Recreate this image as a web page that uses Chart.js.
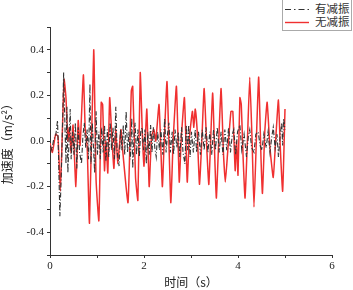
<!DOCTYPE html>
<html>
<head>
<meta charset="utf-8">
<script src="https://cdn.jsdelivr.net/npm/chart.js@4"></script>
<style>
  body { margin: 0; background: #fff; }
  #wrap { position: relative; width: 353px; height: 290px; }
  #legend {
    position: absolute; left: 282px; top: -1px; width: 68px; height: 30px;
    border: 1px solid #aaa; background: #fff;
    font-family: "Noto Sans CJK SC", sans-serif; font-size: 11.5px; color: #333;
  }
  #legend .row { position: absolute; left: 2px; height: 13px; line-height: 13px; }
  #legend svg { position: absolute; left: 0; top: 0; }
  #legend span { position: absolute; left: 30px; top: -1px; white-space: nowrap; }
</style>
</head>
<body>
<div id="wrap">
  <canvas id="chart" width="353" height="290"></canvas>
  <div id="legend">
    <div class="row" style="top:3px">
      <svg width="26" height="13"><line x1="0" y1="6.5" x2="24" y2="6.5" stroke="#333" stroke-width="1.2" stroke-dasharray="6,3,1.5,3"/></svg>
      <span>有减振</span>
    </div>
    <div class="row" style="top:16px">
      <svg width="26" height="13"><line x1="0" y1="6.5" x2="24" y2="6.5" stroke="#f03030" stroke-width="1.4"/></svg>
      <span>无减振</span>
    </div>
  </div>
</div>
<script>
// 无减振 (red) — time (s) and acceleration (m/s^2)
const redT = [0.00,0.05,0.12,0.17,0.22,0.26,0.30,0.34,0.38,0.41,0.45,0.49,0.55,0.60,0.64,0.71,0.75,0.79,0.84,0.93,
  0.98,1.04,1.09,1.12,1.16,1.19,1.23,1.27,1.32,1.36,1.40,1.44,1.51,1.55,1.66,1.73,1.76,1.82,1.87,1.92,
  1.97,2.00,2.06,2.11,2.16,2.21,2.25,2.32,2.39,2.43,2.49,2.57,2.62,2.69,2.75,2.79,2.86,2.92,2.96,3.03,
  3.06,3.09,3.13,3.18,3.23,3.28,3.34,3.38,3.46,3.51,3.54,3.59,3.64,3.69,3.73,3.78,3.85,3.89,3.94,3.97,
  4.00,4.04,4.07,4.11,4.15,4.20,4.25,4.30,4.34,4.39,4.44,4.49,4.52,4.57,4.62,4.68,4.75,4.80,4.86,4.90,
  4.95,5.00];
const redV = [-0.01,-0.05,0.03,0.02,-0.22,0.02,0.27,0.19,0.00,0.06,-0.05,0.07,-0.20,0.09,-0.02,0.29,0.05,-0.02,-0.36,0.40,
  -0.17,-0.35,0.17,0.16,-0.13,0.00,-0.14,0.19,0.00,-0.12,0.05,-0.10,0.05,-0.05,-0.27,0.22,0.24,-0.16,-0.26,0.30,
  0.00,-0.11,0.14,-0.20,0.02,0.05,0.00,0.16,-0.20,0.00,0.26,-0.27,0.00,0.24,-0.18,0.00,0.19,-0.18,0.00,0.13,
  0.06,0.14,0.05,-0.19,0.00,0.23,-0.05,-0.19,0.21,-0.10,-0.25,0.00,0.23,-0.05,-0.18,-0.05,0.13,0.13,-0.13,0.00,
  -0.15,0.19,0.16,-0.08,-0.25,0.00,0.28,0.00,-0.29,0.00,0.28,-0.08,-0.23,0.04,0.17,-0.03,-0.16,0.00,0.18,-0.03,
  -0.22,0.14];

// 有减振 (black dash-dot)
const blackT = [0.00,0.04,0.08,0.12,0.16,0.18,0.21,0.24,0.27,0.29,0.32,0.34,0.36,0.38,0.41,0.43,0.45,0.48,0.51,0.54,
  0.57,0.60,0.63,0.67,0.70,0.73,0.76,0.79,0.82,0.85,0.87,0.90,0.93,0.95,0.98,1.01,1.04,1.07,1.10,1.13,
  1.16,1.19,1.22,1.25,1.28,1.31,1.34,1.37,1.40,1.43,1.47,1.50,1.53,1.56,1.59,1.62,1.65,1.68,1.71,1.74,
  1.76,1.79,1.81,1.84,1.87,1.90,1.93,1.96,1.99,2.02,2.05,2.08,2.11,2.14,2.17,2.20,2.23,2.26,2.29,2.33,
  2.36,2.40,2.44,2.47,2.50,2.53,2.56,2.60,2.63,2.66,2.70,2.73,2.76,2.80,2.83,2.87,2.90,2.93,2.95,2.98,
  3.01,3.05,3.09,3.12,3.16,3.20,3.24,3.28,3.32,3.36,3.40,3.44,3.48,3.52,3.56,3.60,3.64,3.68,3.72,3.76,
  3.80,3.84,3.88,3.91,3.95,3.99,4.04,4.08,4.13,4.18,4.22,4.25,4.29,4.34,4.38,4.43,4.47,4.51,4.55,4.60,
  4.64,4.68,4.72,4.75,4.79,4.83,4.86,4.90,4.93,4.95,4.97,5.00];
const blackV = [-0.02,-0.04,0.01,0.02,0.09,-0.05,-0.33,-0.15,0.10,0.30,0.05,-0.10,0.15,-0.14,0.03,0.14,-0.08,0.04,-0.06,0.08,
  -0.12,0.06,-0.05,-0.10,0.02,0.08,-0.03,0.05,-0.08,0.25,-0.10,0.08,-0.05,-0.14,0.13,-0.06,0.04,-0.08,0.06,-0.05,
  0.07,-0.09,0.05,-0.07,0.08,-0.04,0.06,-0.08,0.15,-0.05,-0.11,0.05,-0.04,0.07,-0.06,0.13,-0.05,0.04,-0.08,0.10,
  -0.12,0.03,0.08,-0.06,0.05,-0.07,0.04,0.06,-0.04,0.05,-0.10,0.04,-0.06,0.07,-0.05,0.06,-0.03,-0.07,0.04,-0.04,
  0.05,-0.06,0.10,-0.05,0.03,0.08,-0.05,0.04,-0.06,0.05,-0.03,0.04,-0.07,0.06,-0.05,-0.10,0.07,-0.04,0.07,-0.07,
  0.04,-0.05,0.05,-0.05,0.04,-0.06,0.05,-0.04,0.06,-0.05,0.04,-0.06,0.05,-0.04,0.06,-0.05,0.04,-0.06,0.05,-0.04,
  0.06,-0.05,0.03,0.05,-0.06,0.04,0.07,-0.04,0.03,-0.07,0.02,0.05,-0.03,-0.05,0.03,0.04,-0.02,-0.04,0.03,-0.03,
  0.04,-0.05,0.02,0.06,-0.03,0.03,-0.07,0.03,0.08,-0.02,0.10,0.05];

const xTicks = [0, 2, 4, 6];
const yTicks = [-0.4, -0.2, 0.0, 0.2, 0.4];

const blackData = blackT.map((t, i) => ({ x: t, y: blackV[i] }));
const redData = redT.map((t, i) => ({ x: t, y: redV[i] }));

const tickFont = { family: 'Liberation Serif', size: 11 };
const titleFont = { family: 'Noto Sans CJK SC', size: 12 };

new Chart(document.getElementById('chart'), {
  type: 'line',
  data: {
    datasets: [
      {
        label: '有减振',
        data: blackData,
        borderColor: '#333',
        borderWidth: 1.1,
        borderDash: [5, 2, 1, 2],
        pointRadius: 0,
        tension: 0
      },
      {
        label: '无减振',
        data: redData,
        borderColor: '#f03030',
        borderWidth: 1.5,
        pointRadius: 0,
        tension: 0.15
      }
    ]
  },
  options: {
    responsive: false,
    animation: false,
    layout: { padding: { top: 27, right: 21, left: 0, bottom: 0 } },
    plugins: { legend: { display: false }, tooltip: { enabled: false } },
    scales: {
      x: {
        type: 'linear',
        min: 0, max: 6,
        ticks: {
          stepSize: 1,
          font: tickFont, color: '#222',
          padding: 2,
          callback: v => xTicks.includes(v) ? String(v) : ''
        },
        grid: { display: true, drawOnChartArea: false, tickLength: 3, color: '#333' },
        border: { color: '#333', width: 1 },
        title: { display: true, text: '时间（s）', font: titleFont, color: '#222', padding: { top: 4, bottom: 0 } },
        afterFit: s => { s.height = 35; }
      },
      y: {
        min: -0.5, max: 0.5,
        ticks: {
          stepSize: 0.1,
          font: tickFont, color: '#222',
          padding: 3,
          callback: v => {
            const r = Math.round(v * 10) / 10;
            return yTicks.some(t => Math.abs(t - r) < 1e-9) ? r.toFixed(1) : '';
          }
        },
        grid: { display: true, drawOnChartArea: false, tickLength: 3, color: '#333' },
        border: { color: '#333', width: 1 },
        title: { display: true, text: '加速度（m/s²）', font: titleFont, color: '#222', padding: { top: 0, bottom: 2 } },
        afterFit: s => { s.width = 50; }
      }
    }
  }
});
</script>
</body>
</html>
